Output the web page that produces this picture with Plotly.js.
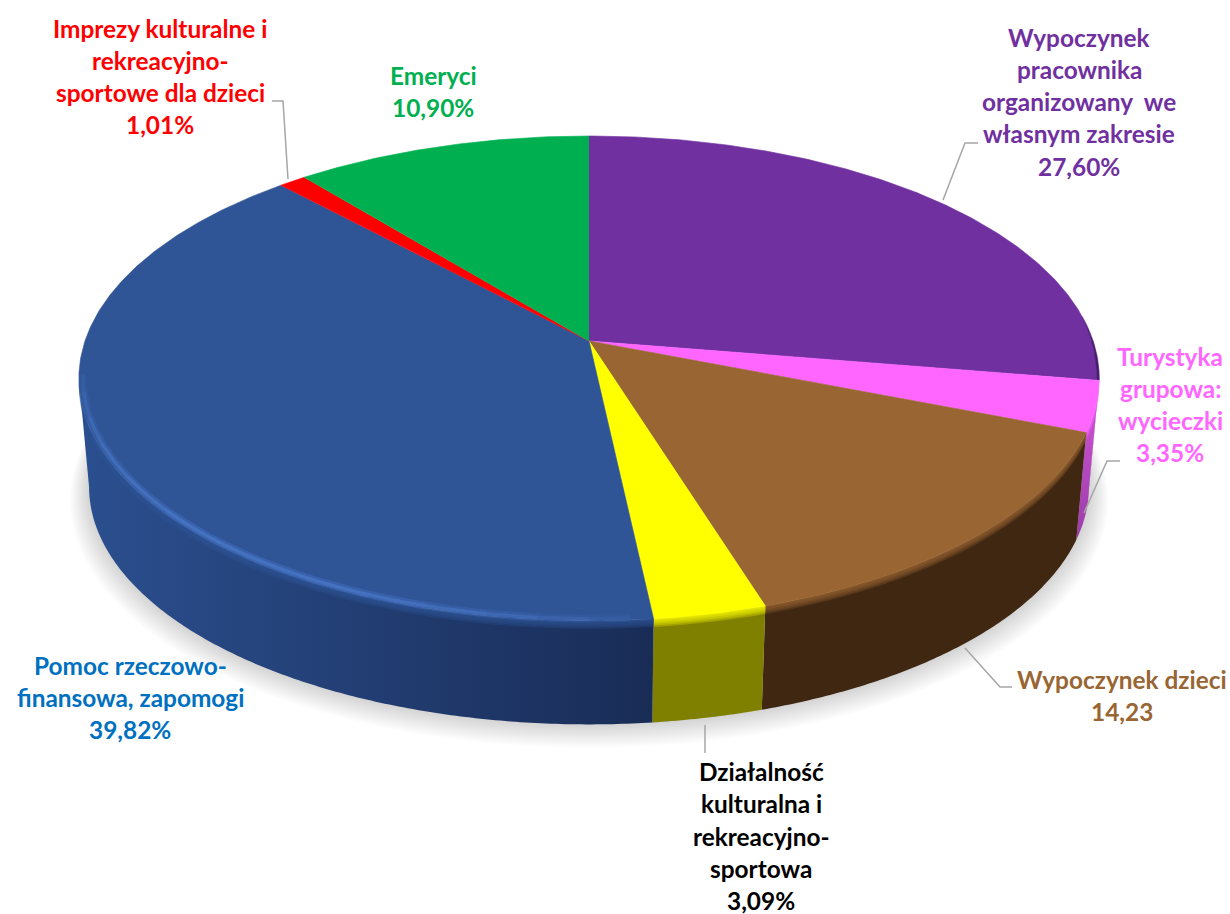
<!DOCTYPE html>
<html><head><meta charset="utf-8">
<script src="https://cdn.plot.ly/plotly-3.0.1.min.js"></script>
<style>html,body{margin:0;padding:0;background:#fff}#chart{width:1230px;height:914px}</style>
</head><body><div id="chart"></div>
<script>
// ---------- data ----------
const categories = [
  "Wypoczynek pracownika organizowany we własnym zakresie",
  "Turystyka grupowa: wycieczki",
  "Wypoczynek dzieci",
  "Działalność kulturalna i rekreacyjno-sportowa",
  "Pomoc rzeczowo-finansowa, zapomogi",
  "Imprezy kulturalne i rekreacyjno-sportowe dla dzieci",
  "Emeryci"
];
const values = [27.60, 3.35, 14.23, 3.09, 39.82, 1.01, 10.90];
const valueSuffix = ["%", "%", "", "%", "%", "%", "%"];
const labelLines = [
  ["Wypoczynek", "pracownika", "organizowany  we", "własnym zakresie"],
  ["Turystyka", "grupowa:", "wycieczki"],
  ["Wypoczynek dzieci"],
  ["Działalność", "kulturalna i", "rekreacyjno-", "sportowa"],
  ["Pomoc rzeczowo-", "finansowa, zapomogi"],
  ["Imprezy kulturalne i", "rekreacyjno-", "sportowe dla dzieci"],
  ["Emeryci"]
];
// ---------- style / layout ----------
const topColors   = ["#7030a0", "#ff66ff", "#996633", "#ffff00", "#2f5597", "#ff0000", "#00b050"];
const wallStart   = ["#3a1a5c", "#d855da", "#3f2712", "#7f7f00", "#2b4f8f", "#990000", "#006a30"];
const wallEnd     = ["#3a1a5c", "#9a3ca8", "#3f2712", "#7f7f00", "#192c56", "#990000", "#006a30"];
const wallDir     = ["horizontal", "vertical", "horizontal", "horizontal", "horizontal", "horizontal", "horizontal"];
const labelColors = ["#7030a0", "#ff66ff", "#996633", "#000000", "#0070c0", "#ff0000", "#00b050"];
const labelX      = [1079, 1170, 1122, 761, 130, 160, 433];
const labelY      = [37, 356, 679, 771.5, 665, 28, 75];
const lineStep    = 32.3;
const leaders = [
  "M978,143 L965,143 L943,200",
  "M1120,461 L1107,461 L1084,513",
  "M1012,687 L1000,687 L965,648",
  "M705,725 L705,753",
  "M272,101 L283,101 L288,179"
];
const CX = 589, CY = 341, RX = 504, RY = 236.7, P = 0.1546;
const DEPTH = 109, BOTTOM_SCALE = 0.98;
const EDGE_DEG = Math.acos(-P) * 180 / Math.PI; // where the rim turns away from the viewer

function proj(deg, s, dy) {
  const t = deg * Math.PI / 180, w = 1 + P * Math.cos(t);
  return [CX + RX * s * Math.sin(t) / w, CY + dy - RY * s * Math.cos(t) / w];
}
function arc(a, b, s, dy) {
  const n = Math.max(2, Math.ceil(Math.abs(b - a) * 2)), pts = [];
  for (let i = 0; i <= n; i++) pts.push(proj(a + (b - a) * i / n, s, dy));
  return pts;
}
function poly(pts) { return {x: pts.map(p => p[0]), y: pts.map(p => p[1])}; }
function rgba(hex, a) {
  const v = parseInt(hex.slice(1), 16);
  return `rgba(${v >> 16},${(v >> 8) & 255},${v & 255},${a})`;
}
const base = {type: "scatter", hoverinfo: "skip", showlegend: false};
const traces = [];

// soft shadow under the pie
for (let i = 0; i < 14; i++) {
  const pts = arc(0, 360, BOTTOM_SCALE + 0.0027 * (14 - i), DEPTH + 0.9 * (14 - i));
  traces.push({...base, ...poly(pts), mode: "none", fill: "toself", fillcolor: "rgba(0,0,0,0.0125)"});
}

// slice angles
const total = values.reduce((a, b) => a + b, 0);
const slices = [];
let acc = 0;
values.forEach(v => { slices.push([acc / total * 360, (acc + v) / total * 360]); acc += v; });

// side walls (visible part only)
slices.forEach(([a, b], i) => {
  const lo = Math.max(a, EDGE_DEG), hi = Math.min(b, 360 - EDGE_DEG);
  if (hi <= lo) return;
  const pts = arc(lo, hi, 1, 0).concat(arc(hi, lo, BOTTOM_SCALE, DEPTH));
  traces.push({...base, ...poly(pts), mode: "none", fill: "toself", name: categories[i] + " wall",
    fillcolor: wallEnd[i],
    fillgradient: {type: wallDir[i], colorscale: [[0, wallDir[i] === "vertical" ? wallEnd[i] : wallStart[i]],
                                                  [1, wallDir[i] === "vertical" ? wallStart[i] : wallEnd[i]]]}});
  // bevel: the top colour fading into the wall
  for (let k = 1; k <= 5; k++) {
    const strip = arc(lo, hi, 1, 0).concat(arc(hi, lo, 1, k * 1.6));
    traces.push({...base, ...poly(strip), mode: "none", fill: "toself", fillcolor: rgba(topColors[i], 0.26)});
  }
});

// top face
slices.forEach(([a, b], i) => {
  const pts = [[CX, CY]].concat(arc(a, b, 1, 0));
  traces.push({...base, ...poly(pts), mode: "lines", fill: "toself", fillcolor: topColors[i],
    line: {color: topColors[i], width: 0.6}, name: categories[i], hoverinfo: "name"});
});

// darker rim where the purple slice turns away
for (let k = 0; k < 4; k++) {
  traces.push({...base, ...poly(arc(84 + k * 3, 99.2, 1 - k * 0.0012, 0)), mode: "lines",
    line: {color: "rgba(40,15,70,0.3)", width: 1.4}});
}

// soft light rim on the big blue slice, tapering towards both ends
[[176, 262], [180, 258], [185, 252], [190, 246], [196, 238], [202, 230]].forEach(([a, b]) => {
  const rim = poly(arc(a, b, 0.992, 0));
  traces.push({...base, ...rim, mode: "lines", line: {color: "rgba(80,130,215,0.07)", width: 8}});
  traces.push({...base, ...rim, mode: "lines", line: {color: "rgba(80,130,215,0.12)", width: 3.5}});
});

// labels: one annotation per line so that the line spacing can be kept
const annotations = [];
labelLines.forEach((lines, i) => {
  const all = lines.concat([values[i].toFixed(2).replace(".", ",") + valueSuffix[i]]);
  all.forEach((t, j) => annotations.push({
    x: labelX[i], y: labelY[i] + j * lineStep, xref: "x", yref: "y",
    text: t, showarrow: false, xanchor: "center", yanchor: "middle",
    font: {family: "Lato, 'Open Sans', sans-serif", size: 24.4, color: labelColors[i], weight: 700}
  }));
});

const layout = {
  width: 1230, height: 914,
  margin: {l: 0, r: 0, t: 0, b: 0},
  paper_bgcolor: "#fff", plot_bgcolor: "#fff",
  showlegend: false,
  xaxis: {range: [0, 1230], visible: false, fixedrange: true},
  yaxis: {range: [914, 0], visible: false, fixedrange: true},
  annotations,
  shapes: leaders.map(path => ({type: "path", path, line: {color: "#a6a6a6", width: 1.5}, layer: "above"}))
};
Plotly.newPlot("chart", traces, layout, {displayModeBar: false, responsive: false});
</script>
</body></html>
